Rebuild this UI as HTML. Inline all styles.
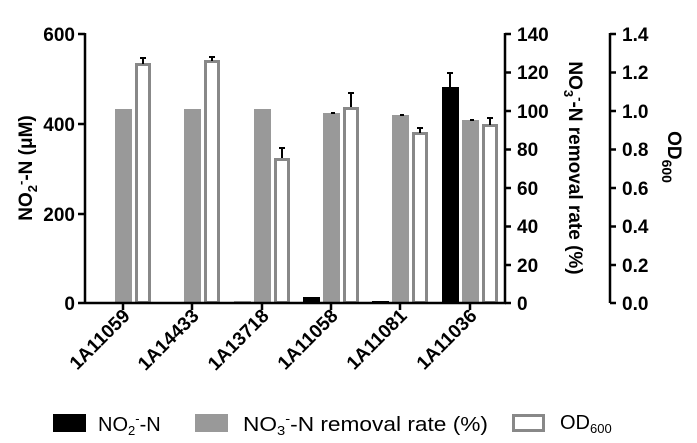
<!DOCTYPE html>
<html><head><meta charset="utf-8"><style>
body{margin:0;background:#fff}
svg{display:block;font-family:"Liberation Sans",Arial,sans-serif}
.t{font-size:19px;font-weight:bold}
</style></head><body>
<svg width="697" height="443" viewBox="0 0 697 443" xmlns="http://www.w3.org/2000/svg">
<g fill="#999">
<rect x="115" y="109" width="17" height="194"/>
<rect x="184" y="109" width="17" height="194"/>
<rect x="254" y="109" width="17" height="194"/>
<rect x="323" y="113" width="17" height="190"/>
<rect x="392" y="115" width="17" height="188"/>
<rect x="462" y="120" width="17" height="183"/>
</g>
<g fill="#000">
<rect x="95" y="302" width="17" height="1"/>
<rect x="234" y="301.5" width="17" height="1.5"/>
<rect x="303" y="297" width="17" height="6"/>
<rect x="372" y="301" width="17" height="2"/>
<rect x="442" y="87" width="17" height="216"/>
</g>
<g fill="#fff" stroke="#888" stroke-width="3">
<rect x="136.5" y="64.5" width="13" height="238"/>
<rect x="205.5" y="61.5" width="13" height="241"/>
<rect x="275.5" y="159.5" width="13" height="143"/>
<rect x="344.5" y="108.5" width="13" height="194"/>
<rect x="413.5" y="133.5" width="13" height="169"/>
<rect x="483.5" y="125.5" width="13" height="177"/>
</g>
<g stroke="#000" stroke-width="2">
<path d="M143 58v6M140 58h6M212 57v4M209 57h6M282 148v10M279 148h6M351 93v14M348 93h6M420 128v5M417 128h6M490 118v7M487 118h6M450 73v14M447 73h6M331 113h4M400 115h4M470 120h4"/>
</g>
<g stroke="#000" stroke-width="2.5" fill="none">
<path d="M85 33V303H506M78 34h7M78 124h7M78 214h7M78 303h7"/>
<path d="M123 303v7M192 303v7M262 303v7M331 303v7M400 303v7M470 303v7"/>
<path d="M505 33V303M505 34h6M505 72.5h6M505 111h6M505 149.5h6M505 188h6M505 226.5h6M505 265h6M505 303h6"/>
<path d="M610 33V303M610 34h6M610 72.5h6M610 111h6M610 149.5h6M610 188h6M610 226.5h6M610 265h6M610 303h6"/>
</g>
<g class="t" text-anchor="end">
<text x="75" y="41">600</text><text x="75" y="131">400</text><text x="75" y="221">200</text><text x="75" y="310">0</text>
</g>
<g class="t">
<text x="517" y="41">140</text><text x="517" y="79">120</text><text x="517" y="118">100</text><text x="517" y="156">80</text><text x="517" y="195">60</text><text x="517" y="233">40</text><text x="517" y="272">20</text><text x="517" y="310">0</text>
<text x="622" y="41">1.4</text><text x="622" y="79">1.2</text><text x="622" y="118">1.0</text><text x="622" y="156">0.8</text><text x="622" y="195">0.6</text><text x="622" y="233">0.4</text><text x="622" y="272">0.2</text><text x="622" y="310">0.0</text>
</g>
<text class="t" transform="translate(32,168) rotate(-90)" text-anchor="middle" font-size="20">NO<tspan font-size="13" dy="5">2</tspan><tspan font-size="13" dy="-12">-</tspan><tspan dy="7">-N (μM)</tspan></text>
<text class="t" transform="translate(569,168) rotate(90)" text-anchor="middle">NO<tspan font-size="13" dy="5">3</tspan><tspan font-size="13" dy="-12">-</tspan><tspan dy="7">-N removal rate (%)</tspan></text>
<text class="t" transform="translate(668,157) rotate(90)" text-anchor="middle" font-size="21">OD<tspan font-size="14" dy="6">600</tspan></text>
<g class="t" text-anchor="end" font-size="19">
<text transform="translate(131,317) rotate(-45)">1A11059</text>
<text transform="translate(200,317) rotate(-45)">1A14433</text>
<text transform="translate(270,317) rotate(-45)">1A13718</text>
<text transform="translate(339,317) rotate(-45)">1A11058</text>
<text transform="translate(408,317) rotate(-45)">1A11081</text>
<text transform="translate(478,317) rotate(-45)">1A11036</text>
</g>
<rect x="53" y="414" width="33" height="18" fill="#000"/>
<text x="98" y="431" font-size="20">NO<tspan font-size="13" dy="4">2</tspan><tspan font-size="13" dy="-12">-</tspan><tspan dy="8">-N</tspan></text>
<rect x="195" y="414" width="33" height="18" fill="#999"/>
<text x="243" y="431" font-size="20" textLength="245" lengthAdjust="spacingAndGlyphs">NO<tspan font-size="13" dy="4">3</tspan><tspan font-size="13" dy="-12">-</tspan><tspan dy="8">-N removal rate (%)</tspan></text>
<rect x="513.5" y="415.5" width="30" height="15" fill="#fff" stroke="#888" stroke-width="3"/>
<text x="560" y="429" font-size="20">OD<tspan font-size="13" dy="4">600</tspan></text>
</svg>
</body></html>
